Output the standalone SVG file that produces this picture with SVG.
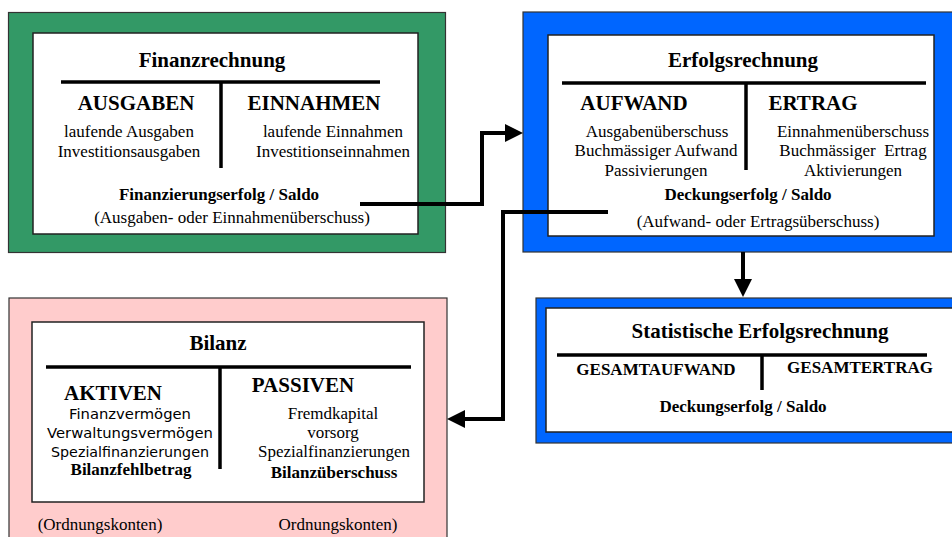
<svg xmlns="http://www.w3.org/2000/svg" width="952" height="537" viewBox="0 0 952 537">
<defs>
<style>
.outer{stroke:#333;stroke-width:1.2}
.inner{fill:#fff;stroke:#222;stroke-width:1.5}
.rule{stroke:#000;stroke-width:3.5;fill:none}
.t{font-family:"Liberation Serif","Times New Roman",serif;fill:#000;text-anchor:middle}
.title{font-size:21px;font-weight:bold}
.head{font-size:21px;font-weight:bold}
.body{font-size:17px}
.bold{font-size:17px;font-weight:bold}
.sans{font-family:"DejaVu Sans","Liberation Sans",sans-serif;font-size:13.5px;fill:#000;text-anchor:middle}
.conn{stroke:#000;stroke-width:4;fill:none}
</style>
<marker id="arr" markerUnits="userSpaceOnUse" markerWidth="19" markerHeight="20" refX="0" refY="10" orient="auto">
<path d="M0,1 L18,10 L0,19 z" fill="#000"/>
</marker>
</defs>

<g id="finanzrechnung">
<rect class="outer" x="8.5" y="12.5" width="437" height="240" fill="#339966"/>
<rect class="inner" x="33" y="33" width="385" height="201"/>
<text class="t title" x="212" y="67">Finanzrechnung</text>
<line class="rule" x1="61" y1="82" x2="380" y2="82"/>
<line class="rule" x1="221" y1="82" x2="221" y2="168"/>
<text class="t head" x="136" y="110">AUSGABEN</text>
<text class="t head" x="314" y="110">EINNAHMEN</text>
<text class="t body" x="129" y="137">laufende Ausgaben</text>
<text class="t body" x="129" y="157">Investitionsausgaben</text>
<text class="t body" x="333" y="137">laufende Einnahmen</text>
<text class="t body" x="333" y="157">Investitionseinnahmen</text>
<text class="t bold" x="219" y="200">Finanzierungserfolg / Saldo</text>
<text class="t body" x="232" y="223">(Ausgaben- oder Einnahmenüberschuss)</text>
</g>

<g id="erfolgsrechnung">
<rect class="outer" x="523" y="12" width="440" height="240" fill="#0066FF"/>
<rect class="inner" x="548" y="35" width="386" height="201"/>
<text class="t title" x="743" y="67">Erfolgsrechnung</text>
<line class="rule" x1="562" y1="83" x2="926" y2="83"/>
<line class="rule" x1="746" y1="83" x2="746" y2="170"/>
<text class="t head" x="634" y="110">AUFWAND</text>
<text class="t head" x="813" y="110">ERTRAG</text>
<text class="t body" x="657" y="137">Ausgabenüberschuss</text>
<text class="t body" x="656" y="156">Buchmässiger Aufwand</text>
<text class="t body" x="656" y="176">Passivierungen</text>
<text class="t body" x="853" y="137">Einnahmenüberschuss</text>
<text class="t body" x="853" y="156" xml:space="preserve">Buchmässiger  Ertrag</text>
<text class="t body" x="853" y="176">Aktivierungen</text>
<text class="t bold" x="748" y="200">Deckungserfolg / Saldo</text>
<text class="t body" x="758" y="227">(Aufwand- oder Ertragsüberschuss)</text>
</g>

<g id="statistische-erfolgsrechnung">
<rect class="outer" x="536" y="298" width="420" height="145" fill="#0066FF"/>
<rect class="inner" x="546" y="308" width="410" height="124"/>
<text class="t title" x="760" y="338">Statistische Erfolgsrechnung</text>
<line class="rule" x1="557" y1="355" x2="927" y2="355"/>
<line class="rule" x1="762" y1="355" x2="762" y2="390"/>
<text class="t bold" x="656" y="375">GESAMTAUFWAND</text>
<text class="t bold" x="860" y="373">GESAMTERTRAG</text>
<text class="t bold" x="743" y="412">Deckungserfolg / Saldo</text>
</g>

<g id="bilanz">
<rect class="outer" x="9" y="298" width="438" height="260" fill="#FFCCCC"/>
<rect class="inner" x="32" y="322" width="392" height="180"/>
<text class="t title" x="218" y="350">Bilanz</text>
<line class="rule" x1="46" y1="367" x2="411" y2="367"/>
<line class="rule" x1="220" y1="367" x2="220" y2="469"/>
<text class="t head" x="113" y="400">AKTIVEN</text>
<text class="t head" x="303" y="392">PASSIVEN</text>
<text class="sans" x="130" y="419" textLength="122" lengthAdjust="spacingAndGlyphs">Finanzvermögen</text>
<text class="sans" x="130" y="438" textLength="166" lengthAdjust="spacingAndGlyphs">Verwaltungsvermögen</text>
<text class="sans" x="130" y="457" textLength="158" lengthAdjust="spacingAndGlyphs">Spezialfinanzierungen</text>
<text class="t bold" x="131" y="475">Bilanzfehlbetrag</text>
<text class="t body" x="333" y="419">Fremdkapital</text>
<text class="t body" x="333" y="438">vorsorg</text>
<text class="t body" x="334" y="457">Spezialfinanzierungen</text>
<text class="t bold" x="334" y="478">Bilanzüberschuss</text>
<text class="t body" x="100" y="530">(Ordnungskonten)</text>
<text class="t body" x="338" y="530">Ordnungskonten)</text>
</g>

<g id="connectors">
<path class="conn" d="M360,204 H482 V133 H505" marker-end="url(#arr)"/>
<path class="conn" d="M608,212 H503 V419 H465" marker-end="url(#arr)"/>
<path class="conn" d="M743,252 V279" marker-end="url(#arr)"/>
</g>
</svg>
